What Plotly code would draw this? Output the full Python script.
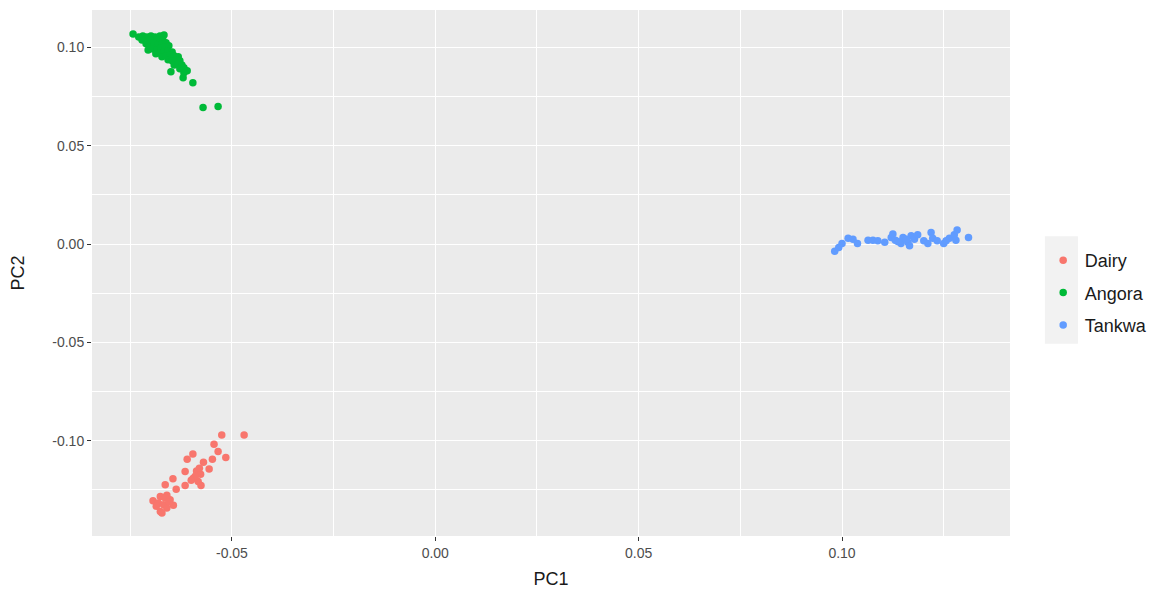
import plotly.graph_objects as go

dairy_x = [-0.0525, -0.0470, -0.0544, -0.0534, -0.0515, -0.0596, -0.0610, -0.0570, -0.0548, -0.0556,
           -0.0615, -0.0587, -0.0577, -0.0595, -0.0583, -0.0576, -0.0645, -0.0664, -0.0637, -0.0615,
           -0.0694, -0.0676, -0.0660, -0.0681, -0.0668, -0.0652, -0.0644, -0.0676, -0.0660, -0.0686,
           -0.0672, -0.0590, -0.0600, -0.0580, -0.0665, -0.0655]
dairy_y = [-0.0971, -0.0971, -0.1018, -0.1055, -0.1085, -0.1067, -0.1094, -0.1109, -0.1094, -0.1143,
           -0.1156, -0.1153, -0.1170, -0.1190, -0.1207, -0.1227, -0.1193, -0.1224, -0.1246, -0.1227,
           -0.1305, -0.1283, -0.1277, -0.1316, -0.1325, -0.1300, -0.1328, -0.1359, -0.1342, -0.1333,
           -0.1367, -0.1180, -0.1200, -0.1140, -0.1290, -0.1310]

angora_x = [-0.0743, -0.0729, -0.0719, -0.0709, -0.0699, -0.0689, -0.0677, -0.0667, -0.0721, -0.0701, -0.0684, -0.0670,
            -0.0711, -0.0701, -0.0692, -0.0682, -0.0672, -0.0662, -0.0706, -0.0694, -0.0684, -0.0674, -0.0665, -0.0655,
            -0.0687, -0.0677, -0.0667, -0.0657, -0.0647, -0.0672, -0.0662, -0.0652, -0.0642, -0.0632,
            -0.0657, -0.0647, -0.0637, -0.0628, -0.0642, -0.0632, -0.0623, -0.0628, -0.0618, -0.0610, -0.0618,
            -0.0650, -0.0620, -0.0596, -0.0571, -0.0534]
angora_y = [0.1068, 0.1053, 0.1058, 0.1053, 0.1058, 0.1053, 0.1058, 0.1063, 0.1038, 0.1038, 0.1038, 0.1038,
            0.1018, 0.1008, 0.1023, 0.1013, 0.1018, 0.1023, 0.0987, 0.0992, 0.0987, 0.0997, 0.1003, 0.1008,
            0.0967, 0.0972, 0.0977, 0.0982, 0.0977, 0.0952, 0.0957, 0.0962, 0.0957, 0.0952,
            0.0937, 0.0932, 0.0937, 0.0932, 0.0911, 0.0916, 0.0911, 0.0891, 0.0896, 0.0881, 0.0871,
            0.0876, 0.0846, 0.0820, 0.0694, 0.0699]

tankwa_x = [0.0982, 0.0992, 0.1000, 0.1015, 0.1027, 0.1038, 0.1064, 0.1076, 0.1088, 0.1105,
            0.1121, 0.1125, 0.1131, 0.1145, 0.1150, 0.1162, 0.1166, 0.1170, 0.1178, 0.1186,
            0.1201, 0.1211, 0.1219, 0.1223, 0.1234, 0.1250, 0.1264, 0.1276, 0.1283, 0.1280,
            0.1311, 0.1137, 0.1158, 0.1256]
tankwa_y = [-0.0037, -0.0017, 0.0003, 0.0030, 0.0025, 0.0003, 0.0020, 0.0020, 0.0017, 0.0009,
            0.0034, 0.0051, 0.0020, 0.0003, 0.0034, 0.0009, -0.0008, 0.0042, 0.0025, 0.0047,
            0.0017, 0.0003, 0.0059, 0.0030, 0.0017, 0.0003, 0.0030, 0.0047, 0.0071, 0.0020,
            0.0034, 0.0013, 0.0025, 0.0017]

x_ticks = [-0.05, 0.0, 0.05, 0.10]
x_ticktext = ["-0.05", "0.00", "0.05", "0.10"]
y_ticks = [-0.10, -0.05, 0.0, 0.05, 0.10]
y_ticktext = ["-0.10", "-0.05", "0.00", "0.05", "0.10"]

fig = go.Figure()
for name, xs, ys, col in [("Dairy", dairy_x, dairy_y, "#F8766D"),
                          ("Angora", angora_x, angora_y, "#00BA38"),
                          ("Tankwa", tankwa_x, tankwa_y, "#619CFF")]:
    fig.add_trace(go.Scatter(x=xs, y=ys, mode="markers", name=name, legendgroup=name,
                             marker=dict(color=col, size=7.5, line=dict(width=0))))

FONT = "Liberation Sans, Arial"
grid = dict(showgrid=True, gridcolor="white", gridwidth=1.3, zeroline=False,
            ticks="outside", ticklen=4, tickcolor="#333333", tickwidth=1,
            tickfont=dict(family=FONT, size=14, color="#4D4D4D"),
            showline=False)

fig.update_layout(
    width=1171, height=595,
    paper_bgcolor="white", plot_bgcolor="#EBEBEB",
    margin=dict(l=92, r=161, t=10, b=57),
    xaxis=dict(range=[-0.0844, 0.1413], tickvals=x_ticks, ticktext=x_ticktext,
               minor=dict(dtick=0.025, tick0=-0.075, showgrid=True, gridcolor="white", gridwidth=0.6, ticks=""),
               title=dict(text="PC1", font=dict(family=FONT, size=18, color="#1A1A1A"), standoff=12),
               **grid),
    yaxis=dict(range=[-0.1484, 0.119], tickvals=y_ticks, ticktext=y_ticktext,
               minor=dict(dtick=0.025, tick0=-0.125, showgrid=True, gridcolor="white", gridwidth=0.6, ticks=""),
               title=dict(text="PC2", font=dict(family=FONT, size=18, color="#1A1A1A"), standoff=22),
               **grid),
    legend=dict(x=1.0345, y=0.462, xanchor="left", yanchor="middle",
                font=dict(family=FONT, size=18, color="#1A1A1A"),
                bgcolor="rgba(0,0,0,0)", itemwidth=33, tracegroupgap=6),
    shapes=[dict(type="rect", xref="paper", yref="paper", x0=1.038, x1=1.074, y0=0.3655, y1=0.570,
                 fillcolor="#F2F2F2", line=dict(width=0), layer="below")],
)

fig.write_html("out.html")
